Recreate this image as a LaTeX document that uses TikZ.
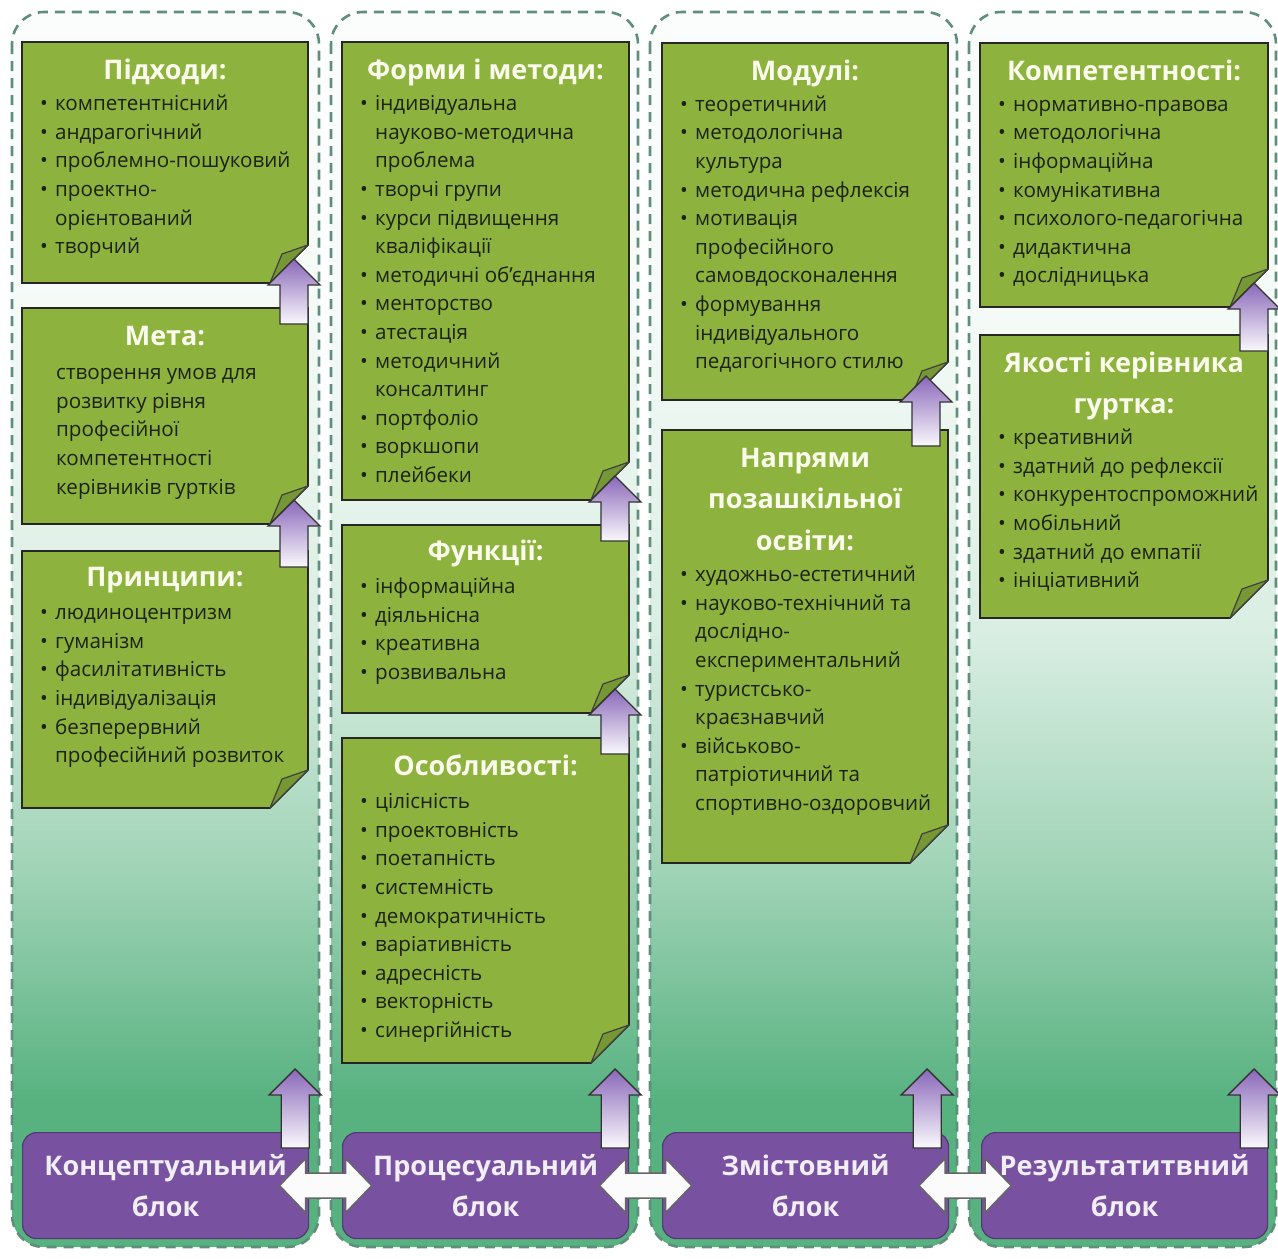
\documentclass[tikz,border=0pt]{standalone}
\usepackage{fontspec}
\setmainfont{Open Sans}
\usetikzlibrary{calc}

\definecolor{zelen}{RGB}{142,178,62}
\definecolor{zelentemn}{RGB}{118,152,52}
\definecolor{fiolet}{RGB}{120,82,160}
\definecolor{rama}{RGB}{96,142,126}
\definecolor{fonniz}{RGB}{88,178,128}
\definecolor{tekst}{RGB}{28,34,18}
\definecolor{zagolovok}{RGB}{250,252,236}
\definecolor{strverh}{RGB}{138,104,186}

\pgfdeclareverticalshading{fonkolony}{100bp}{color(0bp)=(fonniz); color(25bp)=(fonniz); color(31bp)=(fonniz); color(40bp)=(fonniz!58!white); color(50bp)=(fonniz!22!white); color(63bp)=(fonniz!6!white); color(75bp)=(white!97!fonniz); color(100bp)=(white!97!fonniz)}

% зелений аркуш із загнутим кутом
\newcommand{\lystok}[1]{%
  \filldraw[fill=zelen, draw=black!85, line width=1.6pt]
    (#1.north west) -- (#1.north east) -- ([yshift=38pt]#1.south east)
    -- ([xshift=-38pt]#1.south east) -- (#1.south west) -- cycle;
  \filldraw[fill=zelentemn, draw=black!75, line width=1.2pt, line join=round]
    ([yshift=38pt]#1.south east) -- ([xshift=-26pt,yshift=29pt]#1.south east)
    -- ([xshift=-38pt]#1.south east) -- cycle;
}
\newcommand{\punkt}{\makebox[15pt][l]{\textbullet}}
\newcommand{\vidst}{\hspace*{15pt}}

\begin{document}
\begin{tikzpicture}[x=1pt, y=-1pt,
    kolona/.style={draw=rama, line width=2.6pt, dash pattern=on 10pt off 7pt,
      rounded corners=32pt, shading=fonkolony},
    lyst/.style={rectangle, inner sep=0pt, outer sep=0pt, anchor=north west},
    zag/.style={text=zagolovok, font=\bfseries\fontsize{27}{41.5}\selectfont,
      align=center, anchor=north, inner sep=0pt},
    punkty/.style={text=tekst, font=\fontsize{20.6}{28.6}\selectfont,
      align=left, anchor=north west, inner sep=0pt},
    blok/.style={rectangle, rounded corners=14pt, fill=fiolet, draw=fiolet!70!black,
      line width=1.2pt, text=white!90!fiolet, font=\bfseries\fontsize{27}{41.5}\selectfont,
      align=center, inner sep=0pt, anchor=north west,
      minimum width=286pt, minimum height=106pt},
    strilka/.style={top color=strverh, bottom color=white!96!strverh,
      draw=black!80, line width=1.4pt, line join=miter},
    dvostr/.style={fill=white!97!gray, draw=black!60, line width=1.4pt}]

    \useasboundingbox (0,0) rectangle (1278,1259);

    % Колони
    \foreach \x in {12, 331, 650, 969}
        \shadedraw[kolona] (\x,12) rectangle ++(307,1235);

    % Аркуші
    \node[lyst, minimum width=286pt, minimum height=241pt] (pidkhody) at (22,42) {};
    \node[lyst, minimum width=286pt, minimum height=216pt] (meta) at (22,308) {};
    \node[lyst, minimum width=286pt, minimum height=257pt] (pryntsypy) at (22,551) {};
    \node[lyst, minimum width=287pt, minimum height=458pt] (formy) at (342,42) {};
    \node[lyst, minimum width=287pt, minimum height=188pt] (funktsii) at (342,525) {};
    \node[lyst, minimum width=287pt, minimum height=325pt] (osoblyvosti) at (342,738) {};
    \node[lyst, minimum width=286pt, minimum height=357pt] (moduli) at (662,43) {};
    \node[lyst, minimum width=286pt, minimum height=433pt] (napriamy) at (662,430) {};
    \node[lyst, minimum width=288pt, minimum height=264pt] (kompetentnosti) at (980,43) {};
    \node[lyst, minimum width=288pt, minimum height=283pt] (yakosti) at (980,335) {};
    \foreach \l in {pidkhody, meta, pryntsypy, formy, funktsii, osoblyvosti,
                    moduli, napriamy, kompetentnosti, yakosti}
        {\lystok{\l}}

    % Заголовки
    \node[zag] (pidkhody-z) at ([yshift=-8.5pt]pidkhody.north) {\strut Підходи:};
    \node[zag] (meta-z) at ([yshift=-8.5pt]meta.north) {\strut Мета:};
    \node[zag] (pryntsypy-z) at ([yshift=-6pt]pryntsypy.north) {\strut Принципи:};
    \node[zag] (formy-z) at ([yshift=-8.5pt]formy.north) {\strut Форми і методи:};
    \node[zag] (funktsii-z) at ([yshift=-6pt]funktsii.north) {\strut Функції:};
    \node[zag] (osoblyvosti-z) at ([yshift=-8.5pt]osoblyvosti.north) {\strut Особливості:};
    \node[zag] (moduli-z) at ([yshift=-8.5pt]moduli.north) {\strut Модулі:};
    \node[zag] (napriamy-z) at ([yshift=-8pt]napriamy.north) {\strut Напрями\\позашкільної\\освіти:};
    \node[zag] (kompetentnosti-z) at ([yshift=-8pt]kompetentnosti.north) {\strut Компетентності:};
    \node[zag] (yakosti-z) at ([yshift=-8pt]yakosti.north) {\strut Якості керівника\\гуртка:};

    % Пункти
    \node[punkty] (pidkhody-t) at ([xshift=18pt,yshift=-48.5pt]pidkhody.north west)
        {\strut\punkt компетентнісний\\ \punkt андрагогічний\\ \punkt проблемно-пошуковий\\
         \punkt проектно-\\ \vidst орієнтований\\ \punkt творчий};
    \node[punkty] (meta-t) at ([xshift=34pt,yshift=-51.5pt]meta.north west)
        {\strut створення умов для\\ розвитку рівня\\ професійної\\ компетентності\\ керівників гуртків};
    \node[punkty] (pryntsypy-t) at ([xshift=18pt,yshift=-48.5pt]pryntsypy.north west)
        {\strut\punkt людиноцентризм\\ \punkt гуманізм\\ \punkt фасилітативність\\
         \punkt індивідуалізація\\ \punkt безперервний\\ \vidst професійний розвиток};
    \node[punkty] (formy-t) at ([xshift=18pt,yshift=-48.5pt]formy.north west)
        {\strut\punkt індивідуальна\\ \vidst науково-методична\\ \vidst проблема\\
         \punkt творчі групи\\ \punkt курси підвищення\\ \vidst кваліфікації\\
         \punkt методичні об’єднання\\ \punkt менторство\\ \punkt атестація\\
         \punkt методичний\\ \vidst консалтинг\\ \punkt портфоліо\\ \punkt воркшопи\\ \punkt плейбеки};
    \node[punkty] (funktsii-t) at ([xshift=18pt,yshift=-48.5pt]funktsii.north west)
        {\strut\punkt інформаційна\\ \punkt діяльнісна\\ \punkt креативна\\ \punkt розвивальна};
    \node[punkty] (osoblyvosti-t) at ([xshift=18pt,yshift=-50.5pt]osoblyvosti.north west)
        {\strut\punkt цілісність\\ \punkt проектовність\\ \punkt поетапність\\ \punkt системність\\
         \punkt демократичність\\ \punkt варіативність\\ \punkt адресність\\ \punkt векторність\\
         \punkt синергійність};
    \node[punkty] (moduli-t) at ([xshift=18pt,yshift=-48pt]moduli.north west)
        {\strut\punkt теоретичний\\ \punkt методологічна\\ \vidst культура\\
         \punkt методична рефлексія\\ \punkt мотивація\\ \vidst професійного\\
         \vidst самовдосконалення\\ \punkt формування\\ \vidst індивідуального\\
         \vidst педагогічного стилю};
    \node[punkty] (napriamy-t) at ([xshift=18pt,yshift=-131.5pt]napriamy.north west)
        {\strut\punkt художньо-естетичний\\ \punkt науково-технічний та\\ \vidst дослідно-\\
         \vidst експериментальний\\ \punkt туристсько-\\ \vidst краєзнавчий\\
         \punkt військово-\\ \vidst патріотичний та\\ \vidst спортивно-оздоровчий};
    \node[punkty] (kompetentnosti-t) at ([xshift=18pt,yshift=-48pt]kompetentnosti.north west)
        {\strut\punkt нормативно-правова\\ \punkt методологічна\\ \punkt інформаційна\\
         \punkt комунікативна\\ \punkt психолого-педагогічна\\ \punkt дидактична\\ \punkt дослідницька};
    \node[punkty] (yakosti-t) at ([xshift=18pt,yshift=-89.5pt]yakosti.north west)
        {\strut\punkt креативний\\ \punkt здатний до рефлексії\\ \punkt конкурентоспроможний\\
         \punkt мобільний\\ \punkt здатний до емпатії\\ \punkt ініціативний};

    % Блоки
    \node[blok] (kontsept) at (22,1132) {Концептуальний\\блок};
    \node[blok] (protses) at (342,1132) {Процесуальний\\блок};
    \node[blok] (zmist) at (662,1132) {Змістовний\\блок};
    \node[blok] (rezult) at (981,1132) {Результатитвний\\блок};

    % Вільні кінці нижніх стрілок
    \coordinate (k1) at (308,1093);
    \coordinate (k2) at (629,1093);
    \coordinate (k3) at (948,1093);
    \coordinate (k4) at (1268,1093);

    % Стрілки вгору
    \foreach \niz/\verh/\dx in {meta/pidkhody/0, pryntsypy/meta/0, funktsii/formy/0,
            osoblyvosti/funktsii/0, napriamy/moduli/-8, yakosti/kompetentnosti/0,
            kontsept/k1/0, protses/k2/0, zmist/k3/-8, rezult/k4/0}
        \shadedraw[strilka] let \p1=(\niz.north east), \p2=(\verh.south east) in
            (\x1-28pt+\dx pt,\y1-16pt) -- (\x1-28pt+\dx pt,\y2-2pt) -- (\x1-40pt+\dx pt,\y2-2pt)
            -- (\x1-14pt+\dx pt,\y2+24pt) -- (\x1+12pt+\dx pt,\y2-2pt) -- (\x1+\dx pt,\y2-2pt)
            -- (\x1+\dx pt,\y1-16pt) -- cycle;

    % Подвійні стрілки
    \foreach \a/\b in {kontsept/protses, protses/zmist, zmist/rezult}
        \filldraw[dvostr] let \p1=($(\a.east)!0.5!(\b.west)$) in
            (\x1-46pt,\y1) -- (\x1-20pt,\y1+27pt) -- (\x1-20pt,\y1+12.5pt)
            -- (\x1+20pt,\y1+12.5pt) -- (\x1+20pt,\y1+27pt) -- (\x1+46pt,\y1)
            -- (\x1+20pt,\y1-27pt) -- (\x1+20pt,\y1-12.5pt) -- (\x1-20pt,\y1-12.5pt)
            -- (\x1-20pt,\y1-27pt) -- cycle;
\end{tikzpicture}
\end{document}
